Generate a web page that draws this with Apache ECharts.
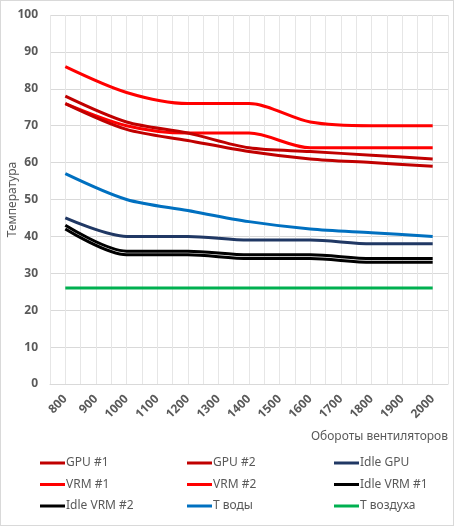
<!DOCTYPE html>
<html>
<head>
<meta charset="utf-8">
<script src="https://cdn.jsdelivr.net/npm/echarts@6/dist/echarts.min.js"></script>
<style>
  html, body { margin: 0; padding: 0; background: #fff; }
  #chart { width: 452px; height: 524px; border: 1px solid #d9d9d9; }
</style>
</head>
<body>
<div id="chart"></div>
<script>
// fan speed (rpm)
var rpm = [800, 1000, 1200, 1400, 1600, 1800, 2000];

var gpu1 = [78, 71, 68, 64, 63, 62, 61];
var gpu2 = [76, 69, 66, 63, 61, 60, 59];
var idleGpu = [45, 40, 40, 39, 39, 38, 38];
var vrm1 = [86, 79, 76, 76, 71, 70, 70];
var vrm2 = [76, 70, 68, 68, 64, 64, 64];
var idleVrm1 = [43, 36, 36, 35, 35, 34, 34];
var idleVrm2 = [42, 35, 35, 34, 34, 33, 33];
var tWater = [57, 50, 47, 44, 42, 41, 40];
var tAir = [26, 26, 26, 26, 26, 26, 26];

var names = ['GPU #1', 'GPU #2', 'Idle GPU', 'VRM #1', 'VRM #2', 'Idle VRM #1', 'Idle VRM #2', 'T воды', 'T воздуха'];
var values = [gpu1, gpu2, idleGpu, vrm1, vrm2, idleVrm1, idleVrm2, tWater, tAir];
var colors = ['#C00000', '#C00000', '#203864', '#FF0000', '#FF0000', '#000000', '#000000', '#0070C0', '#00B050'];

var chart = echarts.init(document.getElementById('chart'));

var series = [];
for (var i = 0; i < names.length; i++) {
    var pts = [];
    for (var j = 0; j < rpm.length; j++) {
        pts.push([rpm[j], values[i][j]]);
    }
    series.push({
        name: names[i],
        type: 'line',
        smooth: 0.3,
        showSymbol: false,
        symbol: 'none',
        lineStyle: { width: 3, color: colors[i] },
        itemStyle: { color: colors[i] },
        z: 10 - i,
        data: pts
    });
}

var textColor = '#595959';
var font = '"Noto Sans", Arial, sans-serif';

function legendCol(left, items) {
    return {
        orient: 'vertical',
        left: left,
        top: 456,
        padding: 0,
        itemWidth: 25,
        itemHeight: 3,
        itemGap: 9.5,
        icon: 'rect',
        textStyle: { color: textColor, fontSize: 12, fontFamily: font, padding: [0, 0, 0, -4] },
        data: items
    };
}

chart.setOption({
    animation: false,
    color: colors,
    textStyle: { fontFamily: font },
    grid: { left: 49, right: 5, top: 14, bottom: 141, outerBoundsMode: 'none' },
    legend: [
        legendCol(39, ['GPU #1', 'VRM #1', 'Idle VRM #2']),
        legendCol(186, ['GPU #2', 'VRM #2', 'T воды']),
        legendCol(333, ['Idle GPU', 'Idle VRM #1', 'T воздуха'])
    ],
    xAxis: {
        type: 'value',
        min: 750,
        max: 2050,
        interval: 50,
        name: 'Обороты вентиляторов',
        nameLocation: 'end',
        nameGap: 0,
        nameMoveOverlap: false,
        nameTextStyle: {
            color: textColor, fontSize: 12, fontFamily: font,
            align: 'right', verticalAlign: 'top', padding: [47, 0, 0, 0]
        },
        axisLine: { show: true, lineStyle: { color: '#d9d9d9', width: 1 } },
        axisTick: { show: false },
        axisLabel: {
            color: textColor,
            fontSize: 12,
            fontWeight: 'bold',
            rotate: 45,
            margin: 13,
            showMinLabel: false,
            showMaxLabel: false,
            formatter: function (v) {
                return (v % 100 === 0 && v >= 800 && v <= 2000) ? String(v) : '';
            }
        },
        splitLine: { show: true, lineStyle: { color: '#e6e6e6', width: 1 } }
    },
    yAxis: {
        type: 'value',
        min: 0,
        max: 100,
        interval: 10,
        name: 'Температура',
        nameLocation: 'middle',
        nameGap: 31,
        nameMoveOverlap: false,
        nameTextStyle: { color: textColor, fontSize: 12, fontFamily: font },
        axisLine: { show: false },
        axisTick: { show: false },
        axisLabel: { color: textColor, fontSize: 12, fontWeight: 'bold', margin: 12 },
        splitLine: { lineStyle: { color: '#d9d9d9', width: 1 } }
    },
    series: series
});
</script>
</body>
</html>
